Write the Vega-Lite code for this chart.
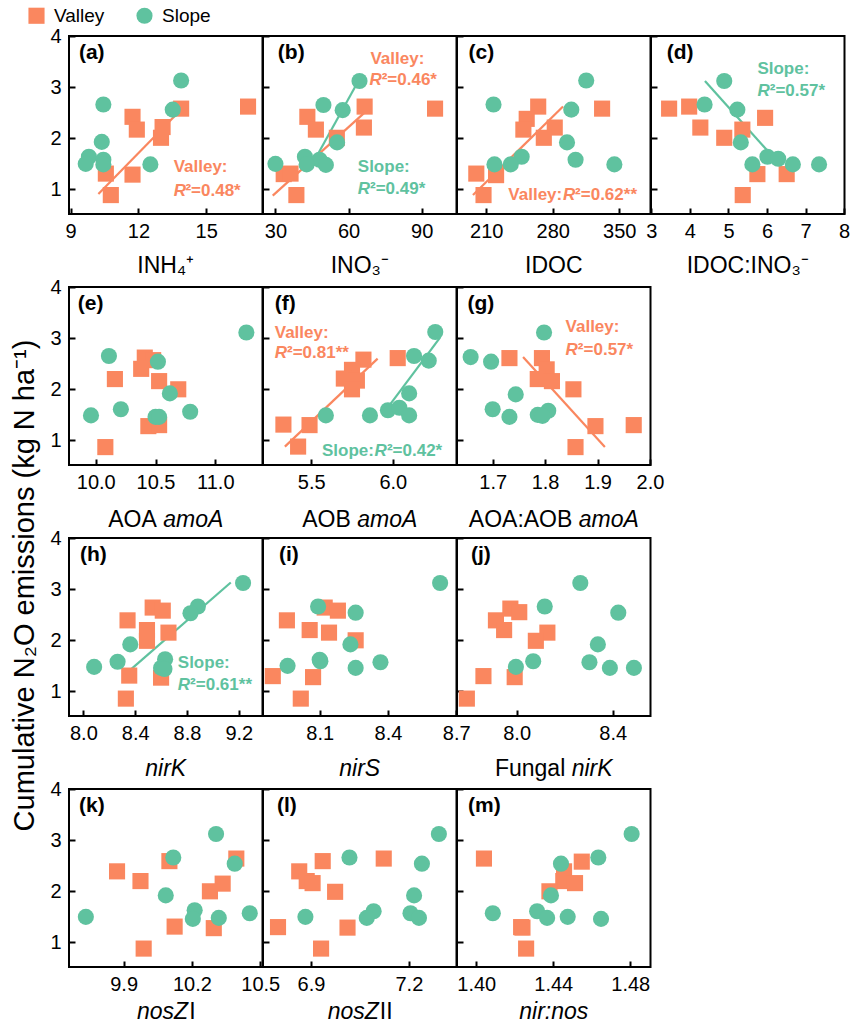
{
 "$schema": "https://vega.github.io/schema/vega-lite/v6.json",
 "background": "white",
 "padding": {"left": 9, "top": 6, "right": 3, "bottom": 5},
 "datasets": {
  "one": [{}],
  "fits": [
   {"p":"a","g":"Valley","x1":10.23,"y1":0.91,"x2":13.77,"y2":2.51},
   {"p":"b","g":"Slope","x1":44.5,"y1":1.44,"x2":63.8,"y2":3.10},
   {"p":"b","g":"Valley","x1":28.9,"y1":0.88,"x2":69.3,"y2":2.62},
   {"p":"c","g":"Valley","x1":196.1,"y1":0.89,"x2":290.8,"y2":2.62},
   {"p":"d","g":"Slope","x1":4.39,"y1":3.12,"x2":6.02,"y2":1.75},
   {"p":"f","g":"Valley","x1":5.339,"y1":0.88,"x2":5.907,"y2":2.60},
   {"p":"f","g":"Slope","x1":5.938,"y1":1.51,"x2":6.289,"y2":3.01},
   {"p":"g","g":"Valley","x1":1.758,"y1":2.63,"x2":1.914,"y2":0.87},
   {"p":"h","g":"Slope","x1":8.367,"y1":1.43,"x2":9.138,"y2":3.13}
  ],
  "pts": [
   {"p":"a","g":"Valley","x":16.85,"y":2.62},{"p":"a","g":"Valley","x":13.89,"y":2.58},{"p":"a","g":"Valley","x":11.74,"y":2.42},{"p":"a","g":"Valley","x":11.93,"y":2.17},{"p":"a","g":"Valley","x":13.07,"y":2.22},{"p":"a","g":"Valley","x":13.0,"y":2.01},{"p":"a","g":"Valley","x":10.56,"y":1.31},{"p":"a","g":"Valley","x":11.74,"y":1.29},{"p":"a","g":"Valley","x":10.78,"y":0.89},
   {"p":"a","g":"Slope","x":13.89,"y":3.13},{"p":"a","g":"Slope","x":10.45,"y":2.66},{"p":"a","g":"Slope","x":13.52,"y":2.56},{"p":"a","g":"Slope","x":10.38,"y":1.93},{"p":"a","g":"Slope","x":9.81,"y":1.64},{"p":"a","g":"Slope","x":9.67,"y":1.50},{"p":"a","g":"Slope","x":10.45,"y":1.58},{"p":"a","g":"Slope","x":10.45,"y":1.49},{"p":"a","g":"Slope","x":12.53,"y":1.49},
   {"p":"b","g":"Valley","x":95.5,"y":2.58},{"p":"b","g":"Valley","x":66.6,"y":2.62},{"p":"b","g":"Valley","x":43.1,"y":2.42},{"p":"b","g":"Valley","x":46.6,"y":2.17},{"p":"b","g":"Valley","x":66.3,"y":2.21},{"p":"b","g":"Valley","x":55.2,"y":2.01},{"p":"b","g":"Valley","x":33.4,"y":1.30},{"p":"b","g":"Valley","x":36.2,"y":1.31},{"p":"b","g":"Valley","x":38.6,"y":0.89},
   {"p":"b","g":"Slope","x":64.5,"y":3.12},{"p":"b","g":"Slope","x":49.7,"y":2.65},{"p":"b","g":"Slope","x":57.6,"y":2.55},{"p":"b","g":"Slope","x":55.3,"y":1.92},{"p":"b","g":"Slope","x":42.1,"y":1.64},{"p":"b","g":"Slope","x":48.1,"y":1.58},{"p":"b","g":"Slope","x":30.0,"y":1.50},{"p":"b","g":"Slope","x":42.8,"y":1.49},{"p":"b","g":"Slope","x":50.7,"y":1.48},
   {"p":"c","g":"Valley","x":264.7,"y":2.62},{"p":"c","g":"Valley","x":331.9,"y":2.58},{"p":"c","g":"Valley","x":252.6,"y":2.38},{"p":"c","g":"Valley","x":249.1,"y":2.17},{"p":"c","g":"Valley","x":282.1,"y":2.21},{"p":"c","g":"Valley","x":270.6,"y":2.01},{"p":"c","g":"Valley","x":199.6,"y":1.31},{"p":"c","g":"Valley","x":220.4,"y":1.28},{"p":"c","g":"Valley","x":207.2,"y":0.89},
   {"p":"c","g":"Slope","x":315.2,"y":3.13},{"p":"c","g":"Slope","x":217.7,"y":2.66},{"p":"c","g":"Slope","x":299.5,"y":2.56},{"p":"c","g":"Slope","x":295.0,"y":1.92},{"p":"c","g":"Slope","x":247.3,"y":1.64},{"p":"c","g":"Slope","x":235.8,"y":1.49},{"p":"c","g":"Slope","x":218.7,"y":1.49},{"p":"c","g":"Slope","x":304.0,"y":1.58},{"p":"c","g":"Slope","x":344.8,"y":1.49},
   {"p":"d","g":"Valley","x":3.46,"y":2.58},{"p":"d","g":"Valley","x":3.98,"y":2.62},{"p":"d","g":"Valley","x":4.27,"y":2.21},{"p":"d","g":"Valley","x":4.89,"y":2.01},{"p":"d","g":"Valley","x":5.36,"y":2.17},{"p":"d","g":"Valley","x":5.95,"y":2.40},{"p":"d","g":"Valley","x":5.75,"y":1.30},{"p":"d","g":"Valley","x":6.51,"y":1.30},{"p":"d","g":"Valley","x":5.37,"y":0.89},
   {"p":"d","g":"Slope","x":4.89,"y":3.12},{"p":"d","g":"Slope","x":4.38,"y":2.66},{"p":"d","g":"Slope","x":5.23,"y":2.56},{"p":"d","g":"Slope","x":5.32,"y":1.92},{"p":"d","g":"Slope","x":6.01,"y":1.64},{"p":"d","g":"Slope","x":6.29,"y":1.60},{"p":"d","g":"Slope","x":5.62,"y":1.49},{"p":"d","g":"Slope","x":6.67,"y":1.49},{"p":"d","g":"Slope","x":7.35,"y":1.49},
   {"p":"e","g":"Valley","x":10.41,"y":2.62},{"p":"e","g":"Valley","x":10.48,"y":2.57},{"p":"e","g":"Valley","x":10.38,"y":2.40},{"p":"e","g":"Valley","x":10.16,"y":2.20},{"p":"e","g":"Valley","x":10.53,"y":2.16},{"p":"e","g":"Valley","x":10.69,"y":2.00},{"p":"e","g":"Valley","x":10.44,"y":1.28},{"p":"e","g":"Valley","x":10.53,"y":1.30},{"p":"e","g":"Valley","x":10.08,"y":0.87},
   {"p":"e","g":"Slope","x":11.26,"y":3.11},{"p":"e","g":"Slope","x":10.11,"y":2.65},{"p":"e","g":"Slope","x":10.52,"y":2.54},{"p":"e","g":"Slope","x":10.62,"y":1.92},{"p":"e","g":"Slope","x":10.21,"y":1.61},{"p":"e","g":"Slope","x":10.79,"y":1.56},{"p":"e","g":"Slope","x":9.96,"y":1.49},{"p":"e","g":"Slope","x":10.50,"y":1.46},{"p":"e","g":"Slope","x":10.53,"y":1.46},
   {"p":"f","g":"Valley","x":6.03,"y":2.61},{"p":"f","g":"Valley","x":5.82,"y":2.58},{"p":"f","g":"Valley","x":5.75,"y":2.38},{"p":"f","g":"Valley","x":5.70,"y":2.21},{"p":"f","g":"Valley","x":5.78,"y":2.17},{"p":"f","g":"Valley","x":5.75,"y":2.00},{"p":"f","g":"Valley","x":5.33,"y":1.31},{"p":"f","g":"Valley","x":5.49,"y":1.30},{"p":"f","g":"Valley","x":5.42,"y":0.88},
   {"p":"f","g":"Slope","x":6.26,"y":3.12},{"p":"f","g":"Slope","x":6.13,"y":2.65},{"p":"f","g":"Slope","x":6.22,"y":2.56},{"p":"f","g":"Slope","x":6.10,"y":1.92},{"p":"f","g":"Slope","x":5.97,"y":1.59},{"p":"f","g":"Slope","x":6.04,"y":1.64},{"p":"f","g":"Slope","x":5.86,"y":1.49},{"p":"f","g":"Slope","x":6.10,"y":1.49},{"p":"f","g":"Slope","x":5.59,"y":1.49},
   {"p":"g","g":"Valley","x":1.732,"y":2.61},{"p":"g","g":"Valley","x":1.794,"y":2.61},{"p":"g","g":"Valley","x":1.803,"y":2.39},{"p":"g","g":"Valley","x":1.786,"y":2.20},{"p":"g","g":"Valley","x":1.813,"y":2.16},{"p":"g","g":"Valley","x":1.854,"y":2.00},{"p":"g","g":"Valley","x":1.896,"y":1.28},{"p":"g","g":"Valley","x":1.969,"y":1.30},{"p":"g","g":"Valley","x":1.858,"y":0.87},
   {"p":"g","g":"Slope","x":1.798,"y":3.11},{"p":"g","g":"Slope","x":1.658,"y":2.63},{"p":"g","g":"Slope","x":1.697,"y":2.54},{"p":"g","g":"Slope","x":1.744,"y":1.90},{"p":"g","g":"Slope","x":1.700,"y":1.61},{"p":"g","g":"Slope","x":1.732,"y":1.46},{"p":"g","g":"Slope","x":1.786,"y":1.50},{"p":"g","g":"Slope","x":1.806,"y":1.58},{"p":"g","g":"Slope","x":1.795,"y":1.48},
   {"p":"h","g":"Valley","x":8.535,"y":2.64},{"p":"h","g":"Valley","x":8.613,"y":2.58},{"p":"h","g":"Valley","x":8.341,"y":2.39},{"p":"h","g":"Valley","x":8.491,"y":2.20},{"p":"h","g":"Valley","x":8.657,"y":2.15},{"p":"h","g":"Valley","x":8.491,"y":1.99},{"p":"h","g":"Valley","x":8.354,"y":1.31},{"p":"h","g":"Valley","x":8.600,"y":1.27},{"p":"h","g":"Valley","x":8.328,"y":0.86},
   {"p":"h","g":"Slope","x":9.233,"y":3.12},{"p":"h","g":"Slope","x":8.884,"y":2.66},{"p":"h","g":"Slope","x":8.827,"y":2.53},{"p":"h","g":"Slope","x":8.362,"y":1.92},{"p":"h","g":"Slope","x":8.264,"y":1.58},{"p":"h","g":"Slope","x":8.083,"y":1.48},{"p":"h","g":"Slope","x":8.631,"y":1.63},{"p":"h","g":"Slope","x":8.600,"y":1.46},{"p":"h","g":"Slope","x":8.626,"y":1.44},
   {"p":"i","g":"Valley","x":8.122,"y":2.64},{"p":"i","g":"Valley","x":8.180,"y":2.58},{"p":"i","g":"Valley","x":7.956,"y":2.39},{"p":"i","g":"Valley","x":8.056,"y":2.20},{"p":"i","g":"Valley","x":8.141,"y":2.15},{"p":"i","g":"Valley","x":8.258,"y":2.00},{"p":"i","g":"Valley","x":7.894,"y":1.30},{"p":"i","g":"Valley","x":8.071,"y":1.28},{"p":"i","g":"Valley","x":8.017,"y":0.86},
   {"p":"i","g":"Slope","x":8.629,"y":3.12},{"p":"i","g":"Slope","x":8.093,"y":2.66},{"p":"i","g":"Slope","x":8.258,"y":2.54},{"p":"i","g":"Slope","x":8.235,"y":1.92},{"p":"i","g":"Slope","x":8.103,"y":1.59},{"p":"i","g":"Slope","x":8.367,"y":1.57},{"p":"i","g":"Slope","x":7.959,"y":1.50},{"p":"i","g":"Slope","x":8.258,"y":1.46},{"p":"i","g":"Slope","x":8.100,"y":1.62},
   {"p":"j","g":"Valley","x":7.974,"y":2.62},{"p":"j","g":"Valley","x":8.011,"y":2.55},{"p":"j","g":"Valley","x":7.914,"y":2.39},{"p":"j","g":"Valley","x":7.948,"y":2.20},{"p":"j","g":"Valley","x":8.128,"y":2.15},{"p":"j","g":"Valley","x":8.080,"y":1.99},{"p":"j","g":"Valley","x":7.862,"y":1.30},{"p":"j","g":"Valley","x":7.992,"y":1.28},{"p":"j","g":"Valley","x":7.793,"y":0.86},
   {"p":"j","g":"Slope","x":8.265,"y":3.12},{"p":"j","g":"Slope","x":8.117,"y":2.66},{"p":"j","g":"Slope","x":8.423,"y":2.54},{"p":"j","g":"Slope","x":8.338,"y":1.92},{"p":"j","g":"Slope","x":8.069,"y":1.59},{"p":"j","g":"Slope","x":8.303,"y":1.57},{"p":"j","g":"Slope","x":7.997,"y":1.48},{"p":"j","g":"Slope","x":8.388,"y":1.46},{"p":"j","g":"Slope","x":8.488,"y":1.46},
   {"p":"k","g":"Valley","x":10.101,"y":2.59},{"p":"k","g":"Valley","x":10.395,"y":2.64},{"p":"k","g":"Valley","x":9.871,"y":2.39},{"p":"k","g":"Valley","x":9.974,"y":2.20},{"p":"k","g":"Valley","x":10.335,"y":2.15},{"p":"k","g":"Valley","x":10.279,"y":2.00},{"p":"k","g":"Valley","x":10.124,"y":1.31},{"p":"k","g":"Valley","x":10.296,"y":1.28},{"p":"k","g":"Valley","x":9.988,"y":0.88},
   {"p":"k","g":"Slope","x":10.306,"y":3.12},{"p":"k","g":"Slope","x":10.118,"y":2.66},{"p":"k","g":"Slope","x":10.388,"y":2.54},{"p":"k","g":"Slope","x":10.085,"y":1.92},{"p":"k","g":"Slope","x":10.212,"y":1.63},{"p":"k","g":"Slope","x":10.204,"y":1.46},{"p":"k","g":"Slope","x":10.454,"y":1.57},{"p":"k","g":"Slope","x":9.734,"y":1.50},{"p":"k","g":"Slope","x":10.318,"y":1.48},
   {"p":"l","g":"Valley","x":6.936,"y":2.59},{"p":"l","g":"Valley","x":7.123,"y":2.64},{"p":"l","g":"Valley","x":6.864,"y":2.39},{"p":"l","g":"Valley","x":6.887,"y":2.20},{"p":"l","g":"Valley","x":6.905,"y":2.16},{"p":"l","g":"Valley","x":6.974,"y":1.99},{"p":"l","g":"Valley","x":6.799,"y":1.30},{"p":"l","g":"Valley","x":7.012,"y":1.29},{"p":"l","g":"Valley","x":6.931,"y":0.88},
   {"p":"l","g":"Slope","x":7.292,"y":3.12},{"p":"l","g":"Slope","x":7.018,"y":2.66},{"p":"l","g":"Slope","x":7.240,"y":2.54},{"p":"l","g":"Slope","x":7.216,"y":1.92},{"p":"l","g":"Slope","x":7.092,"y":1.61},{"p":"l","g":"Slope","x":7.071,"y":1.48},{"p":"l","g":"Slope","x":7.205,"y":1.57},{"p":"l","g":"Slope","x":7.231,"y":1.48},{"p":"l","g":"Slope","x":6.883,"y":1.50},
   {"p":"m","g":"Valley","x":1.404,"y":2.64},{"p":"m","g":"Valley","x":1.4548,"y":2.58},{"p":"m","g":"Valley","x":1.4456,"y":2.39},{"p":"m","g":"Valley","x":1.4452,"y":2.20},{"p":"m","g":"Valley","x":1.4513,"y":2.16},{"p":"m","g":"Valley","x":1.4380,"y":2.00},{"p":"m","g":"Valley","x":1.4233,"y":1.30},{"p":"m","g":"Valley","x":1.4259,"y":0.88},{"p":"m","g":"Valley","x":1.4240,"y":1.29},
   {"p":"m","g":"Slope","x":1.4807,"y":3.12},{"p":"m","g":"Slope","x":1.4634,"y":2.66},{"p":"m","g":"Slope","x":1.4440,"y":2.54},{"p":"m","g":"Slope","x":1.4388,"y":1.92},{"p":"m","g":"Slope","x":1.4316,"y":1.61},{"p":"m","g":"Slope","x":1.4086,"y":1.57},{"p":"m","g":"Slope","x":1.4368,"y":1.48},{"p":"m","g":"Slope","x":1.4475,"y":1.50},{"p":"m","g":"Slope","x":1.4648,"y":1.46}
  ]
 },
 "columns": 4,
 "spacing": {"row": 73, "column": 0},
 "bounds": "flush",
 "concat": [
   {"width": 193.5, "height": 178, "layer": [
    {"data": {"name": "fits"}, "transform": [{"filter": "datum.p==='a'"}], "mark": {"type": "rule", "strokeWidth": 2.2}, "encoding": {"x": {"field": "x1", "type": "quantitative"}, "y": {"field": "y1", "type": "quantitative"}, "x2": {"field": "x2"}, "y2": {"field": "y2"}, "color": {"condition": {"test": "datum.g==='Valley'", "value": "#FA875F"}, "value": "#5FC29F"}}},
    {"data": {"name": "pts"}, "transform": [{"filter": "datum.p==='a'"}], "mark": {"type": "point", "filled": true, "size": 260, "opacity": 1},
     "encoding": {"x": {"field": "x", "type": "quantitative", "scale": {"domain": [8.93, 17.49], "nice": false, "zero": false}, "axis": {"values": [9, 12, 15], "tickCount": 10, "title": null, "format": "d", "labelOverlap": false}},
      "y": {"field": "y", "type": "quantitative", "scale": {"domain": [0.52, 4], "nice": false, "zero": false}, "axis": {"values": [1, 2, 3, 4], "tickCount": 10, "title": null, "format": "d", "labelOverlap": false}},
      "color": {"field": "g", "type": "nominal", "scale": {"domain": ["Valley", "Slope"], "range": ["#FA875F", "#5FC29F"]}, "legend": {"orient": "none", "legendX": -42, "legendY": -30, "direction": "horizontal", "title": null}},
      "shape": {"field": "g", "type": "nominal", "scale": {"domain": ["Valley", "Slope"], "range": ["square", "circle"]}, "legend": {"orient": "none", "legendX": -42, "legendY": -30, "direction": "horizontal", "title": null}}}},
    {"data": {"name": "one"}, "mark": {"type": "text", "style": "plab", "text": "(a)"}, "encoding": {"x": {"datum": 9.37}, "y": {"datum": 3.67}}},
    {"data": {"name": "one"}, "mark": {"type": "text", "style": "ann", "text": "Valley:", "color": "#FA875F"}, "encoding": {"x": {"datum": 13.56}, "y": {"datum": 1.44}}},
    {"data": {"name": "one"}, "mark": {"type": "text", "style": "annI", "text": "R", "color": "#FA875F"}, "encoding": {"x": {"datum": 13.56}, "y": {"datum": 0.97}}},
    {"data": {"name": "one"}, "mark": {"type": "text", "style": "ann", "text": "²=0.48*", "color": "#FA875F"}, "encoding": {"x": {"datum": 14.08}, "y": {"datum": 0.97}}},
    {"data": {"name": "one"}, "mark": {"type": "text", "style": "ttl", "text": "INH₄⁺"}, "encoding": {"x": {"datum": 13.21}, "y": {"datum": -0.5}}}
   ]},
   {"width": 193.5, "height": 178, "layer": [
    {"data": {"name": "fits"}, "transform": [{"filter": "datum.p==='b'"}], "mark": {"type": "rule", "strokeWidth": 2.2}, "encoding": {"x": {"field": "x1", "type": "quantitative"}, "y": {"field": "y1", "type": "quantitative"}, "x2": {"field": "x2"}, "y2": {"field": "y2"}, "color": {"condition": {"test": "datum.g==='Valley'", "value": "#FA875F"}, "value": "#5FC29F"}}},
    {"data": {"name": "pts"}, "transform": [{"filter": "datum.p==='b'"}], "mark": {"type": "point", "filled": true, "size": 260, "opacity": 1},
     "encoding": {"x": {"field": "x", "type": "quantitative", "scale": {"domain": [24.9, 104.3], "nice": false, "zero": false}, "axis": {"values": [30, 60, 90], "tickCount": 10, "title": null, "format": "d", "labelOverlap": false}},
      "y": {"field": "y", "type": "quantitative", "scale": {"domain": [0.52, 4], "nice": false, "zero": false}, "axis": {"values": [1, 2, 3, 4], "tickCount": 10, "title": null, "labels": false}},
      "color": {"field": "g", "type": "nominal", "scale": {"domain": ["Valley", "Slope"], "range": ["#FA875F", "#5FC29F"]}, "legend": null},
      "shape": {"field": "g", "type": "nominal", "scale": {"domain": ["Valley", "Slope"], "range": ["square", "circle"]}, "legend": null}}},
    {"data": {"name": "one"}, "mark": {"type": "text", "style": "plab", "text": "(b)"}, "encoding": {"x": {"datum": 31.0}, "y": {"datum": 3.67}}},
    {"data": {"name": "one"}, "mark": {"type": "text", "style": "ann", "text": "Valley:", "color": "#FA875F"}, "encoding": {"x": {"datum": 69.0}, "y": {"datum": 3.55}}},
    {"data": {"name": "one"}, "mark": {"type": "text", "style": "annI", "text": "R", "color": "#FA875F"}, "encoding": {"x": {"datum": 68.6}, "y": {"datum": 3.14}}},
    {"data": {"name": "one"}, "mark": {"type": "text", "style": "ann", "text": "²=0.46*", "color": "#FA875F"}, "encoding": {"x": {"datum": 73.6}, "y": {"datum": 3.14}}},
    {"data": {"name": "one"}, "mark": {"type": "text", "style": "ann", "text": "Slope:", "color": "#5FC29F"}, "encoding": {"x": {"datum": 63.8}, "y": {"datum": 1.44}}},
    {"data": {"name": "one"}, "mark": {"type": "text", "style": "annI", "text": "R", "color": "#5FC29F"}, "encoding": {"x": {"datum": 63.8}, "y": {"datum": 1.0}}},
    {"data": {"name": "one"}, "mark": {"type": "text", "style": "ann", "text": "²=0.49*", "color": "#5FC29F"}, "encoding": {"x": {"datum": 68.8}, "y": {"datum": 1.0}}},
    {"data": {"name": "one"}, "mark": {"type": "text", "style": "ttl", "text": "INO₃⁻"}, "encoding": {"x": {"datum": 64.6}, "y": {"datum": -0.5}}}
   ]},
   {"width": 193.5, "height": 178, "layer": [
    {"data": {"name": "fits"}, "transform": [{"filter": "datum.p==='c'"}], "mark": {"type": "rule", "strokeWidth": 2.2}, "encoding": {"x": {"field": "x1", "type": "quantitative"}, "y": {"field": "y1", "type": "quantitative"}, "x2": {"field": "x2"}, "y2": {"field": "y2"}, "color": {"condition": {"test": "datum.g==='Valley'", "value": "#FA875F"}, "value": "#5FC29F"}}},
    {"data": {"name": "pts"}, "transform": [{"filter": "datum.p==='c'"}], "mark": {"type": "point", "filled": true, "size": 260, "opacity": 1},
     "encoding": {"x": {"field": "x", "type": "quantitative", "scale": {"domain": [179.3, 382.8], "nice": false, "zero": false}, "axis": {"values": [210, 280, 350], "tickCount": 10, "title": null, "format": "d", "labelOverlap": false}},
      "y": {"field": "y", "type": "quantitative", "scale": {"domain": [0.52, 4], "nice": false, "zero": false}, "axis": {"values": [1, 2, 3, 4], "tickCount": 10, "title": null, "labels": false}},
      "color": {"field": "g", "type": "nominal", "scale": {"domain": ["Valley", "Slope"], "range": ["#FA875F", "#5FC29F"]}, "legend": null},
      "shape": {"field": "g", "type": "nominal", "scale": {"domain": ["Valley", "Slope"], "range": ["square", "circle"]}, "legend": null}}},
    {"data": {"name": "one"}, "mark": {"type": "text", "style": "plab", "text": "(c)"}, "encoding": {"x": {"datum": 191.5}, "y": {"datum": 3.67}}},
    {"data": {"name": "one"}, "mark": {"type": "text", "style": "ann", "text": "Valley:", "color": "#FA875F"}, "encoding": {"x": {"datum": 233.3}, "y": {"datum": 0.89}}},
    {"data": {"name": "one"}, "mark": {"type": "text", "style": "annI", "text": "R", "color": "#FA875F"}, "encoding": {"x": {"datum": 290.8}, "y": {"datum": 0.89}}},
    {"data": {"name": "one"}, "mark": {"type": "text", "style": "ann", "text": "²=0.62**", "color": "#FA875F"}, "encoding": {"x": {"datum": 303.5}, "y": {"datum": 0.89}}},
    {"data": {"name": "one"}, "mark": {"type": "text", "style": "ttl", "text": "IDOC"}, "encoding": {"x": {"datum": 281.05}, "y": {"datum": -0.5}}}
   ]},
   {"width": 193.5, "height": 178, "layer": [
    {"data": {"name": "fits"}, "transform": [{"filter": "datum.p==='d'"}], "mark": {"type": "rule", "strokeWidth": 2.2}, "encoding": {"x": {"field": "x1", "type": "quantitative"}, "y": {"field": "y1", "type": "quantitative"}, "x2": {"field": "x2"}, "y2": {"field": "y2"}, "color": {"condition": {"test": "datum.g==='Valley'", "value": "#FA875F"}, "value": "#5FC29F"}}},
    {"data": {"name": "pts"}, "transform": [{"filter": "datum.p==='d'"}], "mark": {"type": "point", "filled": true, "size": 260, "opacity": 1},
     "encoding": {"x": {"field": "x", "type": "quantitative", "scale": {"domain": [2.99, 8.01], "nice": false, "zero": false}, "axis": {"values": [3, 4, 5, 6, 7, 8], "tickCount": 10, "title": null, "format": "d", "labelOverlap": false}},
      "y": {"field": "y", "type": "quantitative", "scale": {"domain": [0.52, 4], "nice": false, "zero": false}, "axis": {"values": [1, 2, 3, 4], "tickCount": 10, "title": null, "labels": false}},
      "color": {"field": "g", "type": "nominal", "scale": {"domain": ["Valley", "Slope"], "range": ["#FA875F", "#5FC29F"]}, "legend": null},
      "shape": {"field": "g", "type": "nominal", "scale": {"domain": ["Valley", "Slope"], "range": ["square", "circle"]}, "legend": null}}},
    {"data": {"name": "one"}, "mark": {"type": "text", "style": "plab", "text": "(d)"}, "encoding": {"x": {"datum": 3.40}, "y": {"datum": 3.67}}},
    {"data": {"name": "one"}, "mark": {"type": "text", "style": "ann", "text": "Slope:", "color": "#5FC29F"}, "encoding": {"x": {"datum": 5.75}, "y": {"datum": 3.36}}},
    {"data": {"name": "one"}, "mark": {"type": "text", "style": "annI", "text": "R", "color": "#5FC29F"}, "encoding": {"x": {"datum": 5.75}, "y": {"datum": 2.92}}},
    {"data": {"name": "one"}, "mark": {"type": "text", "style": "ann", "text": "²=0.57*", "color": "#5FC29F"}, "encoding": {"x": {"datum": 6.07}, "y": {"datum": 2.92}}},
    {"data": {"name": "one"}, "mark": {"type": "text", "style": "ttl", "text": "IDOC:INO₃⁻"}, "encoding": {"x": {"datum": 5.5}, "y": {"datum": -0.5}}}
   ]},
   {"width": 193.5, "height": 178, "layer": [
    {"data": {"name": "pts"}, "transform": [{"filter": "datum.p==='e'"}], "mark": {"type": "point", "filled": true, "size": 260, "opacity": 1},
     "encoding": {"x": {"field": "x", "type": "quantitative", "scale": {"domain": [9.776, 11.395], "nice": false, "zero": false}, "axis": {"values": [10, 10.5, 11], "tickCount": 10, "title": null, "format": ".1f", "labelOverlap": false}},
      "y": {"field": "y", "type": "quantitative", "scale": {"domain": [0.52, 4], "nice": false, "zero": false}, "axis": {"values": [1, 2, 3, 4], "tickCount": 10, "format": "d", "labelOverlap": false, "title": "Cumulative N₂O emissions (kg N ha⁻¹)", "titleFontSize": 29, "titleFontWeight": "normal", "titleColor": "#000", "titleFont": "Liberation Sans", "titleAngle": -90, "titleBaseline": "bottom", "titleAlign": "center", "titleX": -30, "titleY": 298}},
      "color": {"field": "g", "type": "nominal", "scale": {"domain": ["Valley", "Slope"], "range": ["#FA875F", "#5FC29F"]}, "legend": null},
      "shape": {"field": "g", "type": "nominal", "scale": {"domain": ["Valley", "Slope"], "range": ["square", "circle"]}, "legend": null}}},
    {"data": {"name": "one"}, "mark": {"type": "text", "style": "plab", "text": "(e)"}, "encoding": {"x": {"datum": 9.85}, "y": {"datum": 3.67}}},
    {"data": {"name": "one"}, "mark": {"type": "text", "style": "ttl", "align": "right", "text": "AOA"}, "encoding": {"x": {"datum": 10.511}, "y": {"datum": -0.555}}},
    {"data": {"name": "one"}, "mark": {"type": "text", "style": "ttlI", "align": "left", "text": "amoA"}, "encoding": {"x": {"datum": 10.5646}, "y": {"datum": -0.555}}}
   ]},
   {"width": 193.5, "height": 178, "layer": [
    {"data": {"name": "fits"}, "transform": [{"filter": "datum.p==='f'"}], "mark": {"type": "rule", "strokeWidth": 2.2}, "encoding": {"x": {"field": "x1", "type": "quantitative"}, "y": {"field": "y1", "type": "quantitative"}, "x2": {"field": "x2"}, "y2": {"field": "y2"}, "color": {"condition": {"test": "datum.g==='Valley'", "value": "#FA875F"}, "value": "#5FC29F"}}},
    {"data": {"name": "pts"}, "transform": [{"filter": "datum.p==='f'"}], "mark": {"type": "point", "filled": true, "size": 260, "opacity": 1},
     "encoding": {"x": {"field": "x", "type": "quantitative", "scale": {"domain": [5.205, 6.39], "nice": false, "zero": false}, "axis": {"values": [5.5, 6.0], "tickCount": 10, "title": null, "format": ".1f", "labelOverlap": false}},
      "y": {"field": "y", "type": "quantitative", "scale": {"domain": [0.52, 4], "nice": false, "zero": false}, "axis": {"values": [1, 2, 3, 4], "tickCount": 10, "title": null, "labels": false}},
      "color": {"field": "g", "type": "nominal", "scale": {"domain": ["Valley", "Slope"], "range": ["#FA875F", "#5FC29F"]}, "legend": null},
      "shape": {"field": "g", "type": "nominal", "scale": {"domain": ["Valley", "Slope"], "range": ["square", "circle"]}, "legend": null}}},
    {"data": {"name": "one"}, "mark": {"type": "text", "style": "plab", "text": "(f)"}, "encoding": {"x": {"datum": 5.277}, "y": {"datum": 3.67}}},
    {"data": {"name": "one"}, "mark": {"type": "text", "style": "ann", "text": "Valley:", "color": "#FA875F"}, "encoding": {"x": {"datum": 5.277}, "y": {"datum": 3.11}}},
    {"data": {"name": "one"}, "mark": {"type": "text", "style": "annI", "text": "R", "color": "#FA875F"}, "encoding": {"x": {"datum": 5.277}, "y": {"datum": 2.71}}},
    {"data": {"name": "one"}, "mark": {"type": "text", "style": "ann", "text": "²=0.81**", "color": "#FA875F"}, "encoding": {"x": {"datum": 5.352}, "y": {"datum": 2.71}}},
    {"data": {"name": "one"}, "mark": {"type": "text", "style": "ann", "text": "Slope:", "color": "#5FC29F"}, "encoding": {"x": {"datum": 5.566}, "y": {"datum": 0.79}}},
    {"data": {"name": "one"}, "mark": {"type": "text", "style": "annI", "text": "R", "color": "#5FC29F"}, "encoding": {"x": {"datum": 5.888}, "y": {"datum": 0.79}}},
    {"data": {"name": "one"}, "mark": {"type": "text", "style": "ann", "text": "²=0.42*", "color": "#5FC29F"}, "encoding": {"x": {"datum": 5.964}, "y": {"datum": 0.79}}},
    {"data": {"name": "one"}, "mark": {"type": "text", "style": "ttl", "align": "right", "text": "AOB"}, "encoding": {"x": {"datum": 5.743}, "y": {"datum": -0.555}}},
    {"data": {"name": "one"}, "mark": {"type": "text", "style": "ttlI", "align": "left", "text": "amoA"}, "encoding": {"x": {"datum": 5.7822}, "y": {"datum": -0.555}}}
   ]},
   {"width": 193.5, "height": 178, "layer": [
    {"data": {"name": "fits"}, "transform": [{"filter": "datum.p==='g'"}], "mark": {"type": "rule", "strokeWidth": 2.2}, "encoding": {"x": {"field": "x1", "type": "quantitative"}, "y": {"field": "y1", "type": "quantitative"}, "x2": {"field": "x2"}, "y2": {"field": "y2"}, "color": {"condition": {"test": "datum.g==='Valley'", "value": "#FA875F"}, "value": "#5FC29F"}}},
    {"data": {"name": "pts"}, "transform": [{"filter": "datum.p==='g'"}], "mark": {"type": "point", "filled": true, "size": 260, "opacity": 1},
     "encoding": {"x": {"field": "x", "type": "quantitative", "scale": {"domain": [1.632, 2.001], "nice": false, "zero": false}, "axis": {"values": [1.7, 1.8, 1.9, 2.0], "tickCount": 10, "title": null, "format": ".1f", "labelOverlap": false}},
      "y": {"field": "y", "type": "quantitative", "scale": {"domain": [0.52, 4], "nice": false, "zero": false}, "axis": {"values": [1, 2, 3, 4], "tickCount": 10, "title": null, "labels": false}},
      "color": {"field": "g", "type": "nominal", "scale": {"domain": ["Valley", "Slope"], "range": ["#FA875F", "#5FC29F"]}, "legend": null},
      "shape": {"field": "g", "type": "nominal", "scale": {"domain": ["Valley", "Slope"], "range": ["square", "circle"]}, "legend": null}}},
    {"data": {"name": "one"}, "mark": {"type": "text", "style": "plab", "text": "(g)"}, "encoding": {"x": {"datum": 1.652}, "y": {"datum": 3.67}}},
    {"data": {"name": "one"}, "mark": {"type": "text", "style": "ann", "text": "Valley:", "color": "#FA875F"}, "encoding": {"x": {"datum": 1.839}, "y": {"datum": 3.21}}},
    {"data": {"name": "one"}, "mark": {"type": "text", "style": "annI", "text": "R", "color": "#FA875F"}, "encoding": {"x": {"datum": 1.839}, "y": {"datum": 2.76}}},
    {"data": {"name": "one"}, "mark": {"type": "text", "style": "ann", "text": "²=0.57*", "color": "#FA875F"}, "encoding": {"x": {"datum": 1.8625}, "y": {"datum": 2.76}}},
    {"data": {"name": "one"}, "mark": {"type": "text", "style": "ttl", "align": "right", "text": "AOA:AOB"}, "encoding": {"x": {"datum": 1.852}, "y": {"datum": -0.555}}},
    {"data": {"name": "one"}, "mark": {"type": "text", "style": "ttlI", "align": "left", "text": "amoA"}, "encoding": {"x": {"datum": 1.8642}, "y": {"datum": -0.555}}}
   ]},
   {"width": 193.5, "height": 178, "view": {"stroke": null}, "data": {"values": []}, "mark": "point", "encoding": {}},
   {"width": 193.5, "height": 178, "layer": [
    {"data": {"name": "fits"}, "transform": [{"filter": "datum.p==='h'"}], "mark": {"type": "rule", "strokeWidth": 2.2}, "encoding": {"x": {"field": "x1", "type": "quantitative"}, "y": {"field": "y1", "type": "quantitative"}, "x2": {"field": "x2"}, "y2": {"field": "y2"}, "color": {"condition": {"test": "datum.g==='Valley'", "value": "#FA875F"}, "value": "#5FC29F"}}},
    {"data": {"name": "pts"}, "transform": [{"filter": "datum.p==='h'"}], "mark": {"type": "point", "filled": true, "size": 260, "opacity": 1},
     "encoding": {"x": {"field": "x", "type": "quantitative", "scale": {"domain": [7.889, 9.383], "nice": false, "zero": false}, "axis": {"values": [8.0, 8.4, 8.8, 9.2], "tickCount": 10, "title": null, "format": ".1f", "labelOverlap": false}},
      "y": {"field": "y", "type": "quantitative", "scale": {"domain": [0.52, 4], "nice": false, "zero": false}, "axis": {"values": [1, 2, 3, 4], "tickCount": 10, "title": null, "format": "d", "labelOverlap": false}},
      "color": {"field": "g", "type": "nominal", "scale": {"domain": ["Valley", "Slope"], "range": ["#FA875F", "#5FC29F"]}, "legend": null},
      "shape": {"field": "g", "type": "nominal", "scale": {"domain": ["Valley", "Slope"], "range": ["square", "circle"]}, "legend": null}}},
    {"data": {"name": "one"}, "mark": {"type": "text", "style": "plab", "text": "(h)"}, "encoding": {"x": {"datum": 7.974}, "y": {"datum": 3.67}}},
    {"data": {"name": "one"}, "mark": {"type": "text", "style": "ann", "text": "Slope:", "color": "#5FC29F"}, "encoding": {"x": {"datum": 8.729}, "y": {"datum": 1.55}}},
    {"data": {"name": "one"}, "mark": {"type": "text", "style": "annI", "text": "R", "color": "#5FC29F"}, "encoding": {"x": {"datum": 8.729}, "y": {"datum": 1.12}}},
    {"data": {"name": "one"}, "mark": {"type": "text", "style": "ann", "text": "²=0.61**", "color": "#5FC29F"}, "encoding": {"x": {"datum": 8.824}, "y": {"datum": 1.12}}},
    {"data": {"name": "one"}, "mark": {"type": "text", "style": "ttlI", "text": "nirK"}, "encoding": {"x": {"datum": 8.636}, "y": {"datum": -0.52}}}
   ]},
   {"width": 193.5, "height": 178, "layer": [
    {"data": {"name": "pts"}, "transform": [{"filter": "datum.p==='i'"}], "mark": {"type": "point", "filled": true, "size": 260, "opacity": 1},
     "encoding": {"x": {"field": "x", "type": "quantitative", "scale": {"domain": [7.851, 8.701], "nice": false, "zero": false}, "axis": {"values": [8.1, 8.4, 8.7], "tickCount": 10, "title": null, "format": ".1f", "labelOverlap": false}},
      "y": {"field": "y", "type": "quantitative", "scale": {"domain": [0.52, 4], "nice": false, "zero": false}, "axis": {"values": [1, 2, 3, 4], "tickCount": 10, "title": null, "labels": false}},
      "color": {"field": "g", "type": "nominal", "scale": {"domain": ["Valley", "Slope"], "range": ["#FA875F", "#5FC29F"]}, "legend": null},
      "shape": {"field": "g", "type": "nominal", "scale": {"domain": ["Valley", "Slope"], "range": ["square", "circle"]}, "legend": null}}},
    {"data": {"name": "one"}, "mark": {"type": "text", "style": "plab", "text": "(i)"}, "encoding": {"x": {"datum": 7.921}, "y": {"datum": 3.67}}},
    {"data": {"name": "one"}, "mark": {"type": "text", "style": "ttlI", "text": "nirS"}, "encoding": {"x": {"datum": 8.276}, "y": {"datum": -0.52}}}
   ]},
   {"width": 193.5, "height": 178, "layer": [
    {"data": {"name": "pts"}, "transform": [{"filter": "datum.p==='j'"}], "mark": {"type": "point", "filled": true, "size": 260, "opacity": 1},
     "encoding": {"x": {"field": "x", "type": "quantitative", "scale": {"domain": [7.752, 8.557], "nice": false, "zero": false}, "axis": {"values": [8.0, 8.4], "tickCount": 10, "title": null, "format": ".1f", "labelOverlap": false}},
      "y": {"field": "y", "type": "quantitative", "scale": {"domain": [0.52, 4], "nice": false, "zero": false}, "axis": {"values": [1, 2, 3, 4], "tickCount": 10, "title": null, "labels": false}},
      "color": {"field": "g", "type": "nominal", "scale": {"domain": ["Valley", "Slope"], "range": ["#FA875F", "#5FC29F"]}, "legend": null},
      "shape": {"field": "g", "type": "nominal", "scale": {"domain": ["Valley", "Slope"], "range": ["square", "circle"]}, "legend": null}}},
    {"data": {"name": "one"}, "mark": {"type": "text", "style": "plab", "text": "(j)"}, "encoding": {"x": {"datum": 7.810}, "y": {"datum": 3.67}}},
    {"data": {"name": "one"}, "mark": {"type": "text", "style": "ttl", "align": "right", "text": "Fungal"}, "encoding": {"x": {"datum": 8.2024}, "y": {"datum": -0.52}}},
    {"data": {"name": "one"}, "mark": {"type": "text", "style": "ttlI", "align": "left", "text": "nirK"}, "encoding": {"x": {"datum": 8.229}, "y": {"datum": -0.52}}}
   ]},
   {"width": 193.5, "height": 178, "view": {"stroke": null}, "data": {"values": []}, "mark": "point", "encoding": {}},
   {"width": 193.5, "height": 178, "layer": [
    {"data": {"name": "pts"}, "transform": [{"filter": "datum.p==='k'"}], "mark": {"type": "point", "filled": true, "size": 260, "opacity": 1},
     "encoding": {"x": {"field": "x", "type": "quantitative", "scale": {"domain": [9.66, 10.51], "nice": false, "zero": false}, "axis": {"values": [9.9, 10.2, 10.5], "tickCount": 10, "title": null, "format": ".1f", "labelOverlap": false}},
      "y": {"field": "y", "type": "quantitative", "scale": {"domain": [0.52, 4], "nice": false, "zero": false}, "axis": {"values": [1, 2, 3, 4], "tickCount": 10, "title": null, "format": "d", "labelOverlap": false}},
      "color": {"field": "g", "type": "nominal", "scale": {"domain": ["Valley", "Slope"], "range": ["#FA875F", "#5FC29F"]}, "legend": null},
      "shape": {"field": "g", "type": "nominal", "scale": {"domain": ["Valley", "Slope"], "range": ["square", "circle"]}, "legend": null}}},
    {"data": {"name": "one"}, "mark": {"type": "text", "style": "plab", "text": "(k)"}, "encoding": {"x": {"datum": 9.704}, "y": {"datum": 3.67}}},
    {"data": {"name": "one"}, "mark": {"type": "text", "style": "ttlI", "align": "right", "text": "nosZ"}, "encoding": {"x": {"datum": 10.1834}, "y": {"datum": -0.36}}},
    {"data": {"name": "one"}, "mark": {"type": "text", "style": "ttl", "align": "left", "text": "I"}, "encoding": {"x": {"datum": 10.1878}, "y": {"datum": -0.36}}}
   ]},
   {"width": 193.5, "height": 178, "layer": [
    {"data": {"name": "pts"}, "transform": [{"filter": "datum.p==='l'"}], "mark": {"type": "point", "filled": true, "size": 260, "opacity": 1},
     "encoding": {"x": {"field": "x", "type": "quantitative", "scale": {"domain": [6.753, 7.346], "nice": false, "zero": false}, "axis": {"values": [6.9, 7.2], "tickCount": 10, "title": null, "format": ".1f", "labelOverlap": false}},
      "y": {"field": "y", "type": "quantitative", "scale": {"domain": [0.52, 4], "nice": false, "zero": false}, "axis": {"values": [1, 2, 3, 4], "tickCount": 10, "title": null, "labels": false}},
      "color": {"field": "g", "type": "nominal", "scale": {"domain": ["Valley", "Slope"], "range": ["#FA875F", "#5FC29F"]}, "legend": null},
      "shape": {"field": "g", "type": "nominal", "scale": {"domain": ["Valley", "Slope"], "range": ["square", "circle"]}, "legend": null}}},
    {"data": {"name": "one"}, "mark": {"type": "text", "style": "plab", "text": "(l)"}, "encoding": {"x": {"datum": 6.796}, "y": {"datum": 3.67}}},
    {"data": {"name": "one"}, "mark": {"type": "text", "style": "ttlI", "align": "right", "text": "nosZ"}, "encoding": {"x": {"datum": 7.108}, "y": {"datum": -0.36}}},
    {"data": {"name": "one"}, "mark": {"type": "text", "style": "ttl", "align": "left", "text": "II"}, "encoding": {"x": {"datum": 7.111}, "y": {"datum": -0.36}}}
   ]},
   {"width": 193.5, "height": 178, "layer": [
    {"data": {"name": "pts"}, "transform": [{"filter": "datum.p==='m'"}], "mark": {"type": "point", "filled": true, "size": 260, "opacity": 1},
     "encoding": {"x": {"field": "x", "type": "quantitative", "scale": {"domain": [1.39, 1.4905], "nice": false, "zero": false}, "axis": {"values": [1.40, 1.44, 1.48], "tickCount": 10, "title": null, "format": ".2f", "labelOverlap": false}},
      "y": {"field": "y", "type": "quantitative", "scale": {"domain": [0.52, 4], "nice": false, "zero": false}, "axis": {"values": [1, 2, 3, 4], "tickCount": 10, "title": null, "labels": false}},
      "color": {"field": "g", "type": "nominal", "scale": {"domain": ["Valley", "Slope"], "range": ["#FA875F", "#5FC29F"]}, "legend": null},
      "shape": {"field": "g", "type": "nominal", "scale": {"domain": ["Valley", "Slope"], "range": ["square", "circle"]}, "legend": null}}},
    {"data": {"name": "one"}, "mark": {"type": "text", "style": "plab", "text": "(m)"}, "encoding": {"x": {"datum": 1.3957}, "y": {"datum": 3.67}}},
    {"data": {"name": "one"}, "mark": {"type": "text", "style": "ttlI", "text": "nir:nos"}, "encoding": {"x": {"datum": 1.44025}, "y": {"datum": -0.36}}}
   ]}
 ],
 "config": {
  "font": "Liberation Sans",
  "view": {"stroke": "#000", "strokeWidth": 2},
  "axis": {"domain": false, "grid": false, "tickSize": -6, "tickWidth": 2, "tickColor": "#000", "labelFontSize": 20, "labelColor": "#000", "labelFlush": false, "labelOverlap": false, "labelFont": "Liberation Sans"},
  "axisX": {"labelPadding": 13},
  "axisY": {"labelPadding": 14},
  "legend": {"labelFontSize": 19, "labelColor": "#000", "labelFont": "Liberation Sans", "symbolSize": 260, "symbolStrokeWidth": 0, "columnPadding": 30, "labelOffset": 8, "padding": 0},
  "style": {
   "plab": {"fontSize": 21, "fontWeight": "bold", "align": "left", "baseline": "middle", "color": "#000"},
   "ann": {"fontSize": 17, "fontWeight": "bold", "align": "left", "baseline": "middle"},
   "annI": {"fontSize": 17, "fontWeight": "bold", "fontStyle": "italic", "align": "left", "baseline": "middle"},
   "ttl": {"fontSize": 23, "align": "center", "baseline": "middle", "color": "#000"},
   "ttlI": {"fontSize": 23, "fontStyle": "italic", "align": "center", "baseline": "middle", "color": "#000"}
  }
 }
}
